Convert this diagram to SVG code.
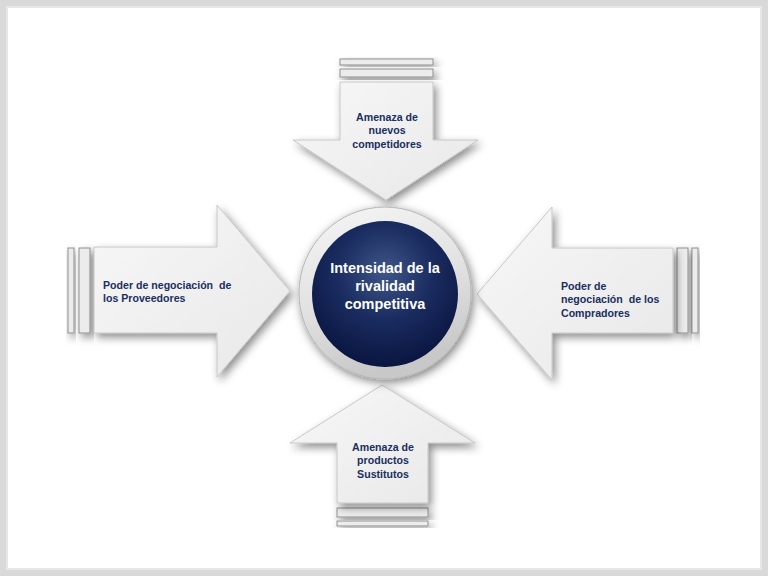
<svg xmlns="http://www.w3.org/2000/svg" width="768" height="576" viewBox="0 0 768 576">
<defs>
<filter id="sh" x="-20%" y="-20%" width="150%" height="150%">
<feDropShadow dx="3" dy="4" stdDeviation="4" flood-color="#000" flood-opacity="0.45"/>
</filter>
<filter id="sh2" x="-20%" y="-20%" width="150%" height="150%">
<feDropShadow dx="2" dy="3" stdDeviation="5" flood-color="#000" flood-opacity="0.5"/>
</filter>
<linearGradient id="ag" x1="0" y1="0" x2="1" y2="1">
<stop offset="0" stop-color="#f7f7f7"/>
<stop offset="1" stop-color="#e8e8e8"/>
</linearGradient>
<linearGradient id="ring" x1="0" y1="0" x2="0.3" y2="1">
<stop offset="0" stop-color="#f6f6f6"/>
<stop offset="0.6" stop-color="#e0e0e0"/>
<stop offset="1" stop-color="#c8c8c8"/>
</linearGradient>
<radialGradient id="ball" cx="0.5" cy="0.35" r="0.65">
<stop offset="0" stop-color="#3f5688"/>
<stop offset="0.5" stop-color="#1a2c60"/>
<stop offset="1" stop-color="#0a1540"/>
</radialGradient>
</defs>
<style>
.arr{fill:url(#ag);stroke:#bdbdbd;stroke-width:0.8;filter:url(#sh)}
.bar{fill:#ececec;stroke:#8f8f8f;stroke-width:1;filter:url(#sh)}
.t{font-family:"Liberation Sans",Arial,sans-serif;font-weight:bold;font-size:10.6px;fill:#1a2f60;white-space:pre}
.c{font-family:"Liberation Sans",Arial,sans-serif;font-weight:bold;font-size:14.5px;fill:#ffffff;text-anchor:middle}
</style>
<rect x="0" y="0" width="768" height="576" fill="#d9d9d9"/>
<rect x="6" y="6" width="756" height="564" fill="#e6e6e6"/>
<rect x="8" y="8" width="752" height="560" fill="#ffffff"/>

<g id="connectors"></g>

<g id="top">
<rect class="bar" x="340" y="59" width="93" height="6"/>
<rect class="bar" x="340" y="69" width="93" height="8"/>
<polygon class="arr" points="340,82 433,82 433,140 478,140 386,200 293,140 340,140"/>
<text class="t" text-anchor="middle"><tspan x="387" y="121">Amenaza de</tspan><tspan x="387" y="134">nuevos</tspan><tspan x="387" y="148">competidores</tspan></text>
</g>

<g id="left">
<rect class="bar" x="68" y="248" width="6" height="85"/>
<rect class="bar" x="79" y="248" width="11" height="85"/>
<polygon class="arr" points="94,247 217,247 217,205 290,291 217,377 217,333 94,333"/>
<text class="t"><tspan x="103" y="289">Poder de negociación  de</tspan><tspan x="103" y="302">los Proveedores</tspan></text>
</g>

<g id="right">
<rect class="bar" x="692" y="248" width="6" height="85"/>
<rect class="bar" x="677" y="248" width="11" height="85"/>
<polygon class="arr" points="673,248 552,248 552,207 477,294 552,380 552,333 673,333"/>
<text class="t"><tspan x="561" y="290">Poder de</tspan><tspan x="561" y="303">negociación  de los</tspan><tspan x="561" y="317">Compradores</tspan></text>
</g>

<g id="bottom">
<rect class="bar" x="337" y="521" width="91" height="5"/>
<rect class="bar" x="337" y="508" width="91" height="9"/>
<polygon class="arr" points="337,503 428,503 428,443 475,443 382,385 290,443 337,443"/>
<text class="t" text-anchor="middle"><tspan x="383" y="451">Amenaza de</tspan><tspan x="383" y="464">productos</tspan><tspan x="383" y="478">Sustitutos</tspan></text>
</g>

<g id="center">
<circle cx="385" cy="293" r="86" fill="url(#ring)" stroke="#b5b5b5" stroke-width="1" filter="url(#sh2)"/>
<circle cx="385" cy="294" r="73" fill="url(#ball)"/>
<text class="c"><tspan x="385" y="273">Intensidad de la</tspan><tspan x="385" y="291">rivalidad</tspan><tspan x="385" y="309">competitiva</tspan></text>
</g>
</svg>
